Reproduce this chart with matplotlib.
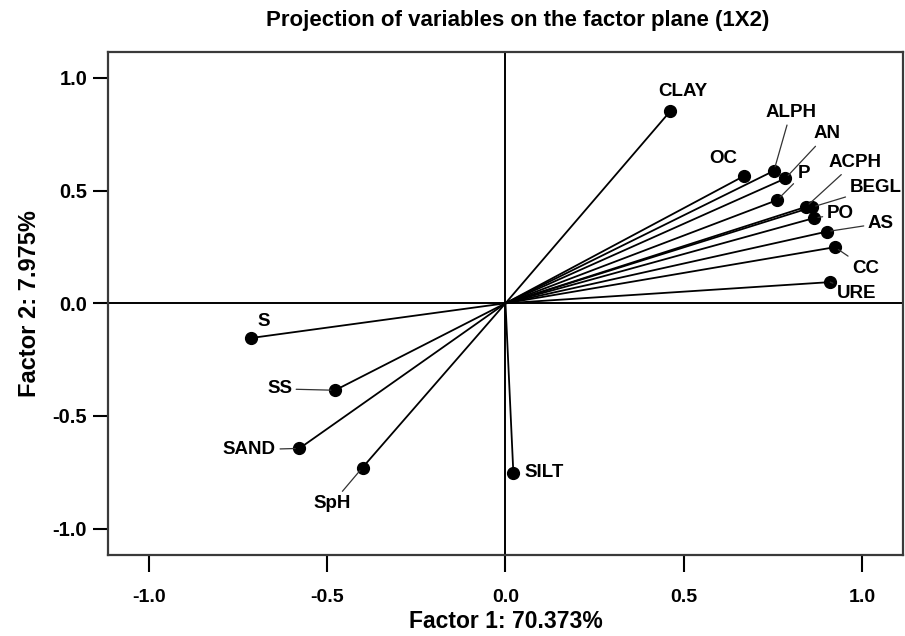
import matplotlib
matplotlib.use('Agg')
import matplotlib.pyplot as plt

plt.rcParams['font.family'] = ['Liberation Sans', 'DejaVu Sans']
plt.rcParams['font.weight'] = 'bold'

# factor loadings of each variable on factor 1 and factor 2
names = ['CLAY', 'OC', 'ALPH', 'AN', 'P', 'ACPH', 'BEGL', 'PO', 'AS', 'CC', 'URE',
         'S', 'SS', 'SAND', 'SpH', 'SILT']
f1 = [0.462, 0.668, 0.753, 0.785, 0.762, 0.843, 0.859, 0.865, 0.901, 0.924, 0.911,
      -0.713, -0.478, -0.578, -0.401, 0.022]
f2 = [0.852, 0.564, 0.588, 0.554, 0.458, 0.428, 0.426, 0.378, 0.318, 0.249, 0.094,
      -0.154, -0.386, -0.644, -0.729, -0.751]

# label offsets from the point (points) and whether a leader line is drawn
offsets = [(9, 14), (-15, 13), (12, 42), (30, 32), (19, 19), (35, 32), (46, 14),
           (19, 3), (39, 6), (22, -15), (19, -8),
           (9, 12), (-40, 1), (-36, -1), (-22, -26), (22, 0)]
leader = [False, False, True, True, True, True, True, True, True, True, True,
          False, True, True, True, False]

fig = plt.figure(figsize=(9.05, 6.36), dpi=100)
ax = fig.add_axes([0.1193, 0.1281, 0.8785, 0.7901])

ax.axhline(0, color='black', lw=1.4, zorder=1)
ax.axvline(0, color='black', lw=1.4, zorder=1)

for x, y in zip(f1, f2):
    ax.plot([0, x], [0, y], color='black', lw=1.3, zorder=2)
ax.plot(f1, f2, 'o', color='black', ms=8.5, zorder=3)

for name, x, y, (dx, dy), ld in zip(names, f1, f2, offsets, leader):
    props = None
    if ld:
        props = dict(arrowstyle='-', color='#333333', lw=0.9, shrinkA=1, shrinkB=3)
    ax.annotate(name, xy=(x, y), xytext=(dx, dy), textcoords='offset points',
                ha='center', va='center', fontsize=13.5, fontweight='bold',
                arrowprops=props, zorder=4)

ax.set_xlim(-1.115, 1.115)
ax.set_ylim(-1.115, 1.115)
ax.set_xticks([-1.0, -0.5, 0.0, 0.5, 1.0])
ax.set_yticks([-1.0, -0.5, 0.0, 0.5, 1.0])
ax.set_xticklabels(['-1.0', '-0.5', '0.0', '0.5', '1.0'])
ax.set_yticklabels(['-1.0', '-0.5', '0.0', '0.5', '1.0'])
ax.tick_params(axis='x', direction='out', length=12, width=1.5, pad=13, labelsize=14)
ax.tick_params(axis='y', direction='out', length=11, width=1.5, pad=4, labelsize=14.5)
for s in ax.spines.values():
    s.set_linewidth(1.6)
    s.set_color('#3a3a3a')

ax.set_xlabel('Factor 1: 70.373%', fontsize=16.5, fontweight='bold', labelpad=3)
ax.set_ylabel('Factor 2: 7.975%', fontsize=17, fontweight='bold', labelpad=8)
fig.suptitle('Projection of variables on the factor plane (1X2)', x=0.572, y=0.985,
             fontsize=16, fontweight='bold')

fig.savefig('out.png', dpi=100)
